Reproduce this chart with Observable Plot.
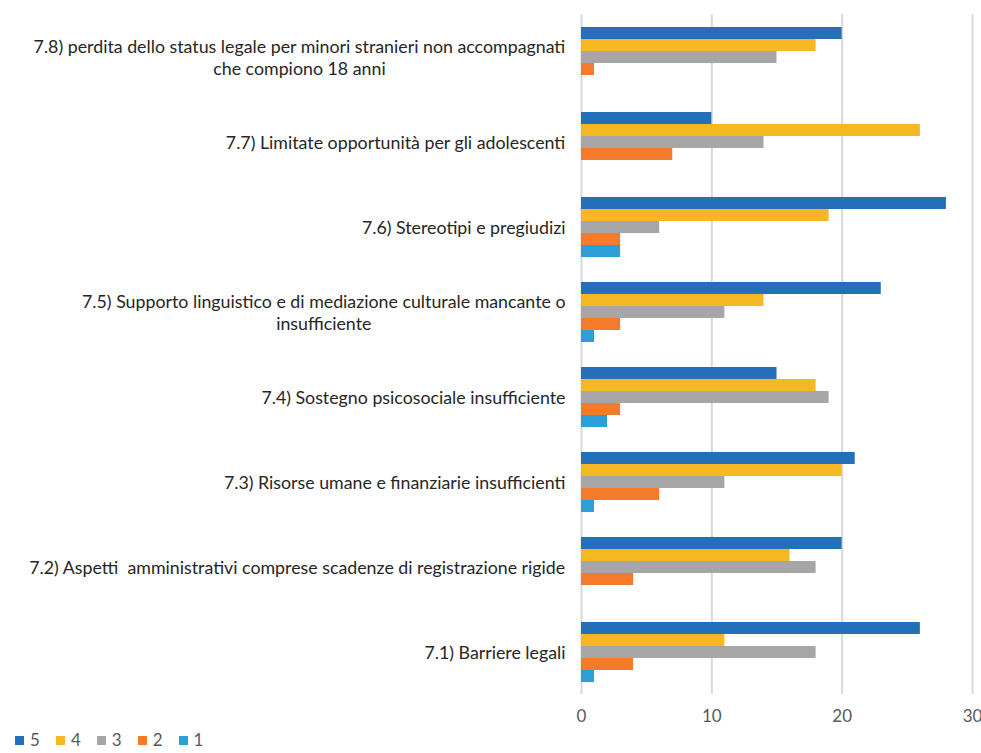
<!DOCTYPE html>
<html>
<head>
<meta charset="utf-8">
<script src="https://cdn.jsdelivr.net/npm/d3@7"></script>
<script src="https://cdn.jsdelivr.net/npm/@observablehq/plot@0.6"></script>
<style>
  html, body { margin: 0; padding: 0; background: #fff; }
  #wrap { position: relative; width: 981px; height: 753px; overflow: hidden; }
  #legend { position: absolute; left: 15px; top: 730px; display: flex; font-family: Lato, sans-serif; font-size: 17px; line-height: 20px; color: #595959; }
  #legend .item { display: flex; align-items: center; margin-right: 16px; }
  #legend .sw { width: 9px; height: 9px; margin-right: 6px; }
</style>
</head>
<body>
<div id="wrap"><div id="chart"></div><div id="legend"></div></div>
<script>
const categories = [
  "7.8) perdita dello status legale per minori stranieri non accompagnati\nche compiono 18 anni",
  "7.7) Limitate opportunità per gli adolescenti",
  "7.6) Stereotipi e pregiudizi",
  "7.5) Supporto linguistico e di mediazione culturale mancante o\ninsufficiente",
  "7.4) Sostegno psicosociale insufficiente",
  "7.3) Risorse umane e finanziarie insufficienti",
  "7.2) Aspetti  amministrativi comprese scadenze di registrazione rigide",
  "7.1) Barriere legali"
];
const seriesNames = ["5", "4", "3", "2", "1"];
const s5 = [20, 10, 28, 23, 15, 21, 20, 26];
const s4 = [18, 26, 19, 14, 18, 20, 16, 11];
const s3 = [15, 14, 6, 11, 19, 11, 18, 18];
const s2 = [1, 7, 3, 3, 3, 6, 4, 4];
const s1 = [0, 0, 3, 1, 2, 1, 0, 1];
const colors = ["#2370b8", "#f5b821", "#a6a6a6", "#f47b2a", "#2a9fd8"];
const xTicks = [0, 10, 20, 30];

const seriesValues = [s5, s4, s3, s2, s1];
const data = [];
categories.forEach((c, i) => {
  seriesNames.forEach((s, j) => data.push({cat: c, series: s, value: seriesValues[j][i]}));
});

const FONT = "Lato, sans-serif";
const FS = 17.8;
const ctx = document.createElement("canvas").getContext("2d");
ctx.font = `${FS}px Lato`;
const maxW = c => Math.max(...c.split("\n").map(l => ctx.measureText(l).width));
const gap = 16;

const labelMarks = categories.map(c =>
  Plot.text([c], {
    fy: d => d, text: d => d, frameAnchor: "left", textAnchor: "middle",
    dx: -(gap + maxW(c) / 2), fill: "#262626", lineHeight: 1.22, fontSize: FS
  })
);

const chart = Plot.plot({
  width: 981,
  height: 730,
  marginLeft: 581,
  marginRight: 9,
  marginTop: 12,
  marginBottom: 35,
  style: {fontFamily: FONT, fontSize: "17px", background: "#fff", overflow: "visible"},
  fy: {domain: categories, axis: null, padding: 0},
  y: {domain: seriesNames, axis: null, paddingInner: 0, paddingOuter: 0.85},
  x: {domain: [0, 30], ticks: xTicks, tickSize: 0, tickPadding: 15, label: null},
  color: {domain: seriesNames, range: colors},
  facet: {marginRight: 0, marginLeft: 0},
  marks: [
    Plot.ruleX(xTicks, {stroke: "#d9d9d9", strokeWidth: 2}),
    Plot.barX(data, {fy: "cat", y: "series", x: "value", fill: "series"}),
    ...labelMarks
  ]
});
chart.style.color = "#595959";
document.getElementById("chart").appendChild(chart);

const legend = document.getElementById("legend");
seriesNames.forEach((s, i) => {
  const item = document.createElement("div");
  item.className = "item";
  const sw = document.createElement("span");
  sw.className = "sw";
  sw.style.background = colors[i];
  const t = document.createElement("span");
  t.textContent = s;
  item.appendChild(sw); item.appendChild(t);
  legend.appendChild(item);
});
</script>
</body>
</html>
